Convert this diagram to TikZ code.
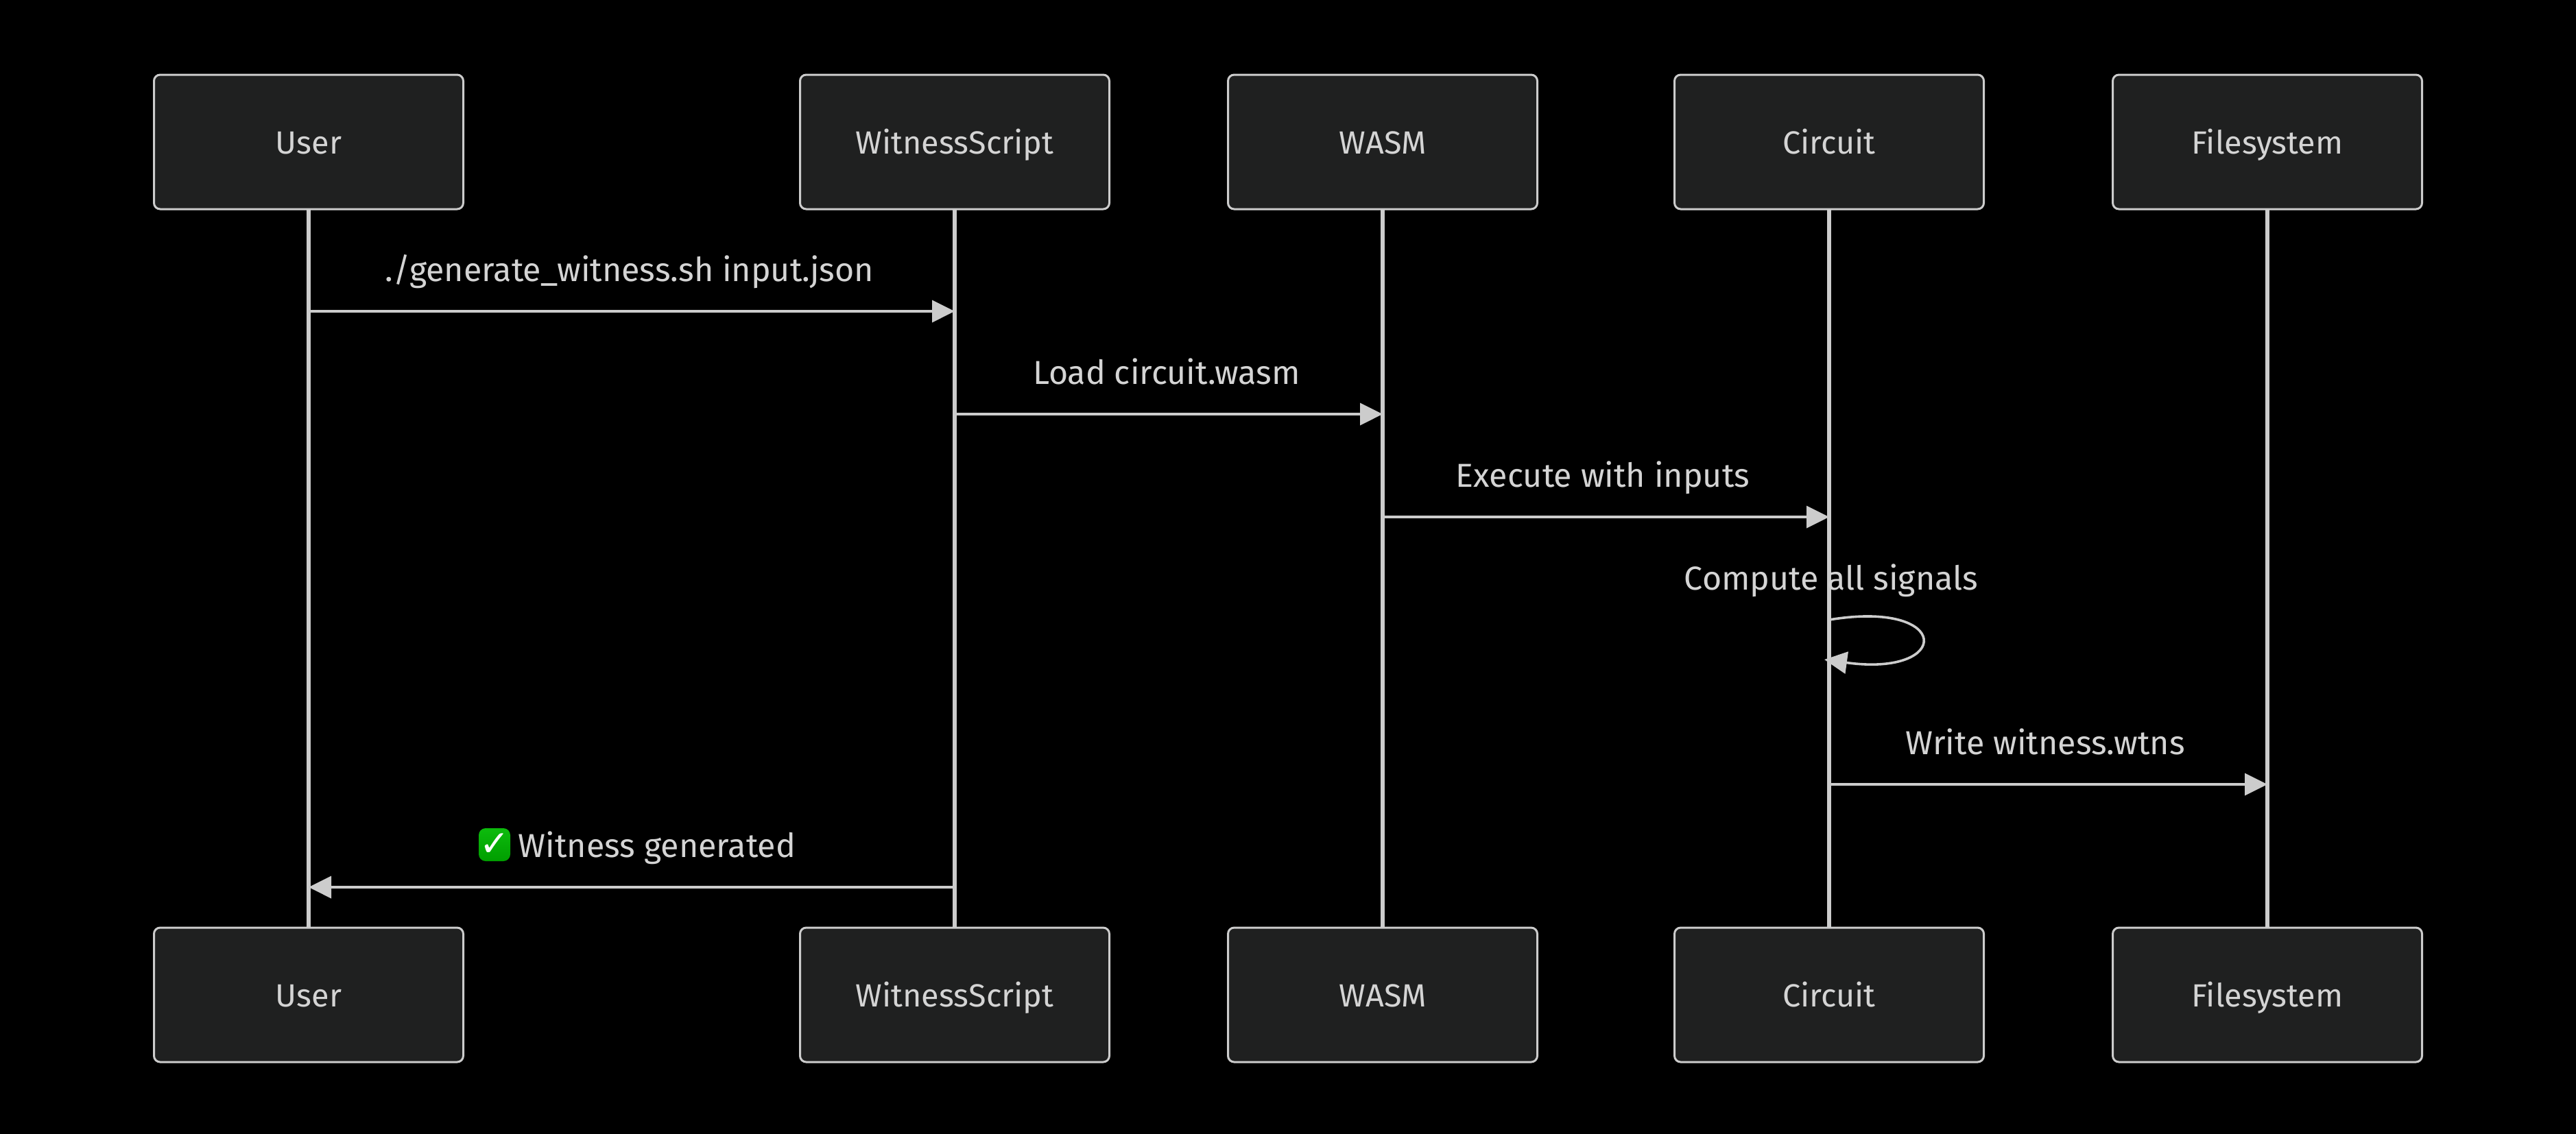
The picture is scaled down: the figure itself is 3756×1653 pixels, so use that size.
\documentclass[tikz,border=0pt]{standalone}
\usepackage{fontspec}
\setmainfont{Fira Sans}
\newfontfamily\symfont{DejaVu Sans}
\usetikzlibrary{arrows.meta,positioning}
\definecolor{linegray}{HTML}{CCCCCC}
\definecolor{boxgray}{HTML}{1F2020}
\definecolor{textgray}{HTML}{D4D4D4}
\tikzset{
	actor/.style={draw=linegray,fill=boxgray,line width=.75pt,rounded corners=2.25pt,minimum width=112.75pt,minimum height=49pt,inner sep=0pt,outer sep=0pt,text=textgray,text height=11.5pt,text depth=3pt,font=\fontsize{11.7}{14}\selectfont},
	lifeline/.style={draw=linegray,line width=1.5pt},
	msg/.style={draw=linegray,line width=.9pt,-{Triangle[length=8.25pt,width=8pt]}},
	msglabel/.style={text=textgray,anchor=base,inner sep=0pt,outer sep=0pt},
	okmark/.style={top color=green!72!black!95!white,bottom color=green!62!black,draw=none,rounded corners=2.5pt,text=white,text width=11.5pt,align=center,minimum height=12pt,inner sep=0pt,font=\fontsize{13}{13}\selectfont\symfont}
}
\begin{document}
\begin{tikzpicture}[x=.25pt,y=-.25pt,line join=round,font=\fontsize{12.1}{14}\selectfont]
	\useasboundingbox (0,0) rectangle (3756,1653);
	\fill[black] (-8,-8) rectangle (3764,1661);
	% participants, top row then bottom row
	\foreach \nm/\xx/\txt in {user/450/User,ws/1392/WitnessScript,wasm/2016/WASM,circuit/2667/Circuit,fs/3306/Filesystem}{
		\draw[lifeline] (\xx,300)--(\xx,1357);
		\node[actor] (\nm T) at (\xx,207) {\txt};
		\node[actor] (\nm B) at (\xx,1451) {\txt};
	}
	% rows of the messages
	\coordinate (r1) at (0,454);
	\coordinate (r2) at (0,604);
	\coordinate (r3) at (0,754);
	\coordinate (r4) at (0,904);
	\coordinate (r6) at (0,1144);
	\coordinate (r7) at (0,1294);
	\coordinate (loopend) at (2660,962);
	\draw[msg] (userT |- r1)--(wsT |- r1);
	\node[msglabel] (lbA) at (918,410) {./generate\_witness.sh input.json};
	\draw[msg] (wsT |- r2)--(wasmT |- r2);
	\node[msglabel] (lbB) at (1701,560) {Load circuit.wasm};
	\draw[msg] (wasmT |- r3)--(circuitT |- r3);
	\node[msglabel] (lbC) at (2337,710) {Execute with inputs};
	\node[msglabel] (lbD) at (2670,860) {Compute all signals};
	\draw[msg] (circuitT |- r4) .. controls +(180,-30) and +(187,26) .. (loopend);
	\draw[msg] (circuitT |- r6)--(fsT |- r6);
	\node[msglabel] (lbE) at (2982,1100) {Write witness.wtns};
	\draw[msg] (wsT |- r7)--(userT |- r7);
	\node[msglabel] (lbF) at (958,1250) {Witness generated};
	\node[okmark] (okbox) at (721,1232) {\textbf{✓}};
\end{tikzpicture}
\end{document}
